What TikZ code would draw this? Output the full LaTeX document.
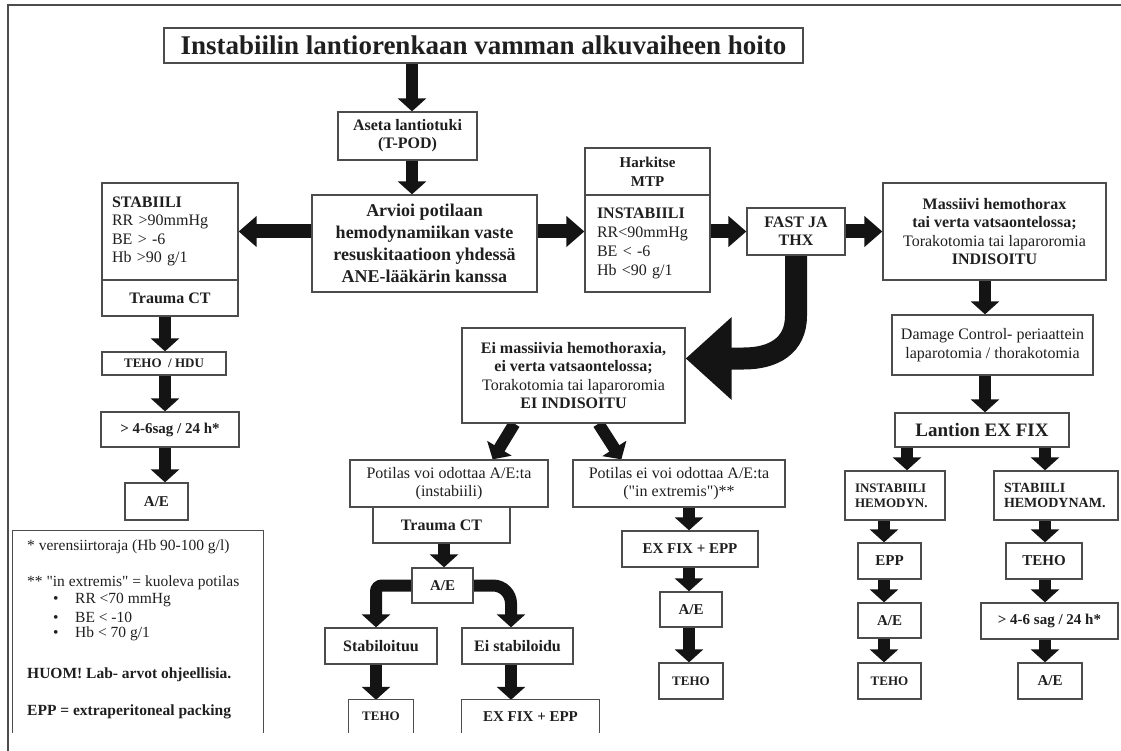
\documentclass[tikz,border=0pt]{standalone}
\usepackage{fontspec}
\setmainfont{Liberation Serif}[Ligatures=TeXOff]
\usetikzlibrary{arrows.meta,calc,backgrounds}
\newcommand\fsz[2]{\fontsize{#1}{#2}\selectfont}
\begin{document}
\begin{tikzpicture}[x=1pt,y=-1pt,
  bx/.style={draw=black!70,line width=1.3pt,fill=white,inner sep=1pt,align=center,text=black!88},
  bxt/.style={inner sep=1pt,align=center,text=black!88},
  arr/.style={line width=12pt,draw=black!92,-{Triangle[width=28pt,length=13pt]}},
  harr/.style={line width=14pt,draw=black!92,-{Triangle[width=30pt,length=18pt]}},
  bigarr/.style={line width=22pt,draw=black!92,-{Triangle[width=80pt,length=46pt]}},
  openbox/.style={draw=black!70,line width=1.3pt},
  frame/.style={draw=black!70,line width=2pt},
  leg/.style={anchor=west,inner sep=0pt,text=black!88,font=\fsz{15.5}{18}},
]
\useasboundingbox (0,0) rectangle (1121,751);
\draw[frame] (8,751) -- (8,5) -- (1121,5);

% column coordinates
\coordinate (cT) at (412,0);
\coordinate (cL) at (165,0);
\coordinate (cR) at (985,0);
\coordinate (cRa) at (907,0);
\coordinate (cRb) at (1045,0);
\coordinate (cRc) at (884,0);
\coordinate (cM) at (444,0);
\coordinate (cS) at (376,0);
\coordinate (cE) at (511,0);
\coordinate (cX) at (689,0);

% title and top
\node[bx,minimum width=639pt,minimum height=35pt,font=\bfseries\fsz{27}{30}] (title) at (483.5,45.5) {Instabiilin lantiorenkaan vamman alkuvaiheen hoito};
\node[bx,minimum width=139pt,minimum height=48pt,font=\bfseries\fsz{16}{18}] (aseta) at (407.5,136) {Aseta lantiotuki\\(T-POD)};
\node[bx,minimum width=225pt,minimum height=97pt,font=\bfseries\fsz{18}{22}] (arvioi) at (424.5,243.5) {Arvioi potilaan\\hemodynamiikan vaste\\resuskitaatioon yhdessä\\ANE-lääkärin kanssa};

% left column
\node[bx,minimum height=97pt,text width=116pt,inner xsep=10pt,align=left,font=\fsz{16}{18.5}] (stab) at (170,231.5) {{\bfseries STABIILI}\\RR >90mmHg\\BE > -6\\Hb >90 g/1};
\node[bx,minimum width=136pt,minimum height=36pt,font=\bfseries\fsz{16}{18}] (traumaL) at (170,298) {Trauma CT};
\node[bx,minimum width=124pt,minimum height=23pt,font=\bfseries\fsz{13}{15}] (tehohdu) at (164,363.5) {TEHO\ \ / HDU};
\node[bx,minimum width=138pt,minimum height=35pt,font=\bfseries\fsz{15}{17}] (sagL) at (170,429.5) {> 4-6sag / 24 h*};
\node[bx,minimum width=63pt,minimum height=37pt,font=\bfseries\fsz{15}{17}] (aeL) at (156.5,501.5) {A/E};

% legend
\node[bxt,minimum width=250pt,minimum height=202pt] (legend) at (138,632) {};
\draw[openbox] (legend.south west) |- (legend.north east) -- (legend.south east);
\node[leg] (lg1) at (27,547) {* verensiirtoraja (Hb 90-100 g/l)};
\node[leg] (lg2) at (27,583) {** "in extremis" = kuoleva potilas};
\node[leg] (lg3) at (53,600) {\makebox[22pt][l]{•}RR <70 mmHg};
\node[leg] (lg4) at (53,617) {\makebox[22pt][l]{•}BE < -10};
\node[leg] (lg5) at (53,634) {\makebox[22pt][l]{•}Hb < 70 g/1};
\node[leg,font=\bfseries\fsz{15.5}{18}] (lg6) at (27,675) {HUOM! Lab- arvot ohjeellisia.};
\node[leg,font=\bfseries\fsz{15.5}{18}] (lg7) at (27,712) {EPP = extraperitoneal packing};

% instabiili column
\node[bx,minimum width=125pt,minimum height=47pt,font=\bfseries\fsz{15}{19}] (harkitse) at (647.5,171.5) {Harkitse\\MTP};
\node[bx,minimum height=97pt,text width=101pt,inner xsep=12pt,align=left,font=\fsz{16}{19}] (instab) at (647.5,243.5) {{\bfseries INSTABIILI}\\RR<90mmHg\\BE < -6\\Hb <90 g/1};
\node[bx,minimum width=98pt,minimum height=47pt,font=\bfseries\fsz{16}{18}] (fast) at (796,231.5) {FAST JA\\THX};

% right branch
\node[bx,minimum width=223pt,minimum height=97pt,font=\fsz{16}{18.5}] (massiivi) at (994.5,231.5) {{\bfseries Massiivi hemothorax}\\{\bfseries tai verta vatsaontelossa;}\\Torakotomia tai laparoromia\\{\bfseries INDISOITU}};
\node[bx,minimum width=201pt,minimum height=60pt,font=\fsz{16}{18.7}] (damage) at (992.5,345) {Damage Control- periaattein\\laparotomia / thorakotomia};
\node[bx,minimum width=174pt,minimum height=34pt,font=\bfseries\fsz{19}{21}] (lantion) at (982,430) {Lantion EX FIX};
\node[bx,minimum height=49pt,text width=80pt,inner xsep=10pt,align=left,font=\bfseries\fsz{13}{15}] (instabH) at (895,495.5) {INSTABIILI\\HEMODYN.};
\node[bx,minimum height=49pt,text width=104pt,inner xsep=10pt,align=left,font=\bfseries\fsz{14}{15}] (stabH) at (1056,495.5) {STABIILI\\HEMODYNAM.};
\node[bx,minimum width=63pt,minimum height=36pt,font=\bfseries\fsz{15}{17}] (eppR) at (889.5,561) {EPP};
\node[bx,minimum width=63pt,minimum height=35pt,font=\bfseries\fsz{15}{17}] (aeR1) at (889.5,620.5) {A/E};
\node[bx,minimum width=63pt,minimum height=36pt,font=\bfseries\fsz{13}{15}] (tehoR1) at (889.5,681) {TEHO};
\node[bx,minimum width=76pt,minimum height=36pt,font=\bfseries\fsz{15}{17}] (tehoR2) at (1044,561) {TEHO};
\node[bx,minimum width=137pt,minimum height=36pt,font=\bfseries\fsz{15}{17}] (sagR) at (1049.5,621) {> 4-6 sag / 24 h*};
\node[bx,minimum width=64pt,minimum height=36pt,font=\bfseries\fsz{15}{17}] (aeR2) at (1050,681) {A/E};

% middle branch
\node[bx,minimum width=223pt,minimum height=95pt,font=\fsz{16}{18.5}] (eimass) at (573.5,375.5) {{\bfseries Ei massiivia hemothoraxia,}\\{\bfseries ei verta vatsaontelossa;}\\Torakotomia tai laparoromia\\{\bfseries EI INDISOITU}};
\node[bx,minimum width=198pt,minimum height=47pt,font=\fsz{16}{18}] (voi) at (449,483.5) {Potilas voi odottaa A/E:ta\\(instabiili)};
\node[bx,minimum width=137pt,minimum height=36pt,font=\bfseries\fsz{16}{18}] (traumaM) at (441.5,525) {Trauma CT};
\node[bx,minimum width=61pt,minimum height=35pt,font=\bfseries\fsz{15}{17}] (aeM) at (442.5,585.5) {A/E};
\node[bx,minimum width=112pt,minimum height=36pt,font=\bfseries\fsz{16}{18}] (stabu) at (381,646) {Stabiloituu};
\node[bx,minimum width=111pt,minimum height=36pt,font=\bfseries\fsz{16}{18}] (eistab) at (517.5,646) {Ei stabiloidu};
\node[bxt,minimum width=64pt,minimum height=33pt,font=\bfseries\fsz{13}{15}] (tehoM) at (381,716.5) {TEHO};
\draw[openbox] (tehoM.south west) |- (tehoM.north east) -- (tehoM.south east);
\node[bxt,minimum width=137pt,minimum height=33pt,font=\bfseries\fsz{15}{17}] (exfixM) at (530.5,716.5) {EX FIX + EPP};
\draw[openbox] (exfixM.south west) |- (exfixM.north east) -- (exfixM.south east);

\node[bx,minimum width=212pt,minimum height=47pt,font=\fsz{16}{18}] (eivoi) at (679,483.5) {Potilas ei voi odottaa A/E:ta\\("in extremis")**};
\node[bx,minimum width=136pt,minimum height=36pt,font=\bfseries\fsz{15}{17}] (exfixR) at (690,549) {EX FIX + EPP};
\node[bx,minimum width=62pt,minimum height=35pt,font=\bfseries\fsz{15}{17}] (aeM2) at (691,609.5) {A/E};
\node[bx,minimum width=64pt,minimum height=36pt,font=\bfseries\fsz{13}{15}] (tehoM2) at (691,681) {TEHO};

\begin{scope}[on background layer]
% top
\draw[arr] (cT |- title.south) -- (cT |- aseta.north);
\draw[arr] (cT |- aseta.south) -- (cT |- arvioi.north);
\draw[harr] (arvioi.west |- stab.east) -- (stab.east);
\draw[harr] (arvioi.east |- fast.west) -- (instab.west |- fast.west);
\draw[harr] (instab.east |- fast.west) -- (fast.west);
\draw[harr] (fast.east) -- (massiivi.west);
% left column
\draw[arr] (cL |- traumaL.south) -- (cL |- tehohdu.north);
\draw[arr] (cL |- tehohdu.south) -- (cL |- sagL.north);
\draw[arr] (cL |- sagL.south) -- (cL |- aeL.north);
% right
\draw[arr] (cR |- massiivi.south) -- (cR |- damage.north);
\draw[arr] (cR |- damage.south) -- (cR |- lantion.north);
\draw[arr] (cRa |- lantion.south) -- (cRa |- instabH.north);
\draw[arr] (cRb |- lantion.south) -- (cRb |- stabH.north);
\draw[arr] (cRc |- instabH.south) -- (cRc |- eppR.north);
\draw[arr] (cRc |- eppR.south) -- (cRc |- aeR1.north);
\draw[arr] (cRc |- aeR1.south) -- (cRc |- tehoR1.north);
\draw[arr] (cRb |- stabH.south) -- (cRb |- tehoR2.north);
\draw[arr] (cRb |- tehoR2.south) -- (cRb |- sagR.north);
\draw[arr] (cRb |- sagR.south) -- (cRb |- aeR2.north);
% big curved arrow
\draw[bigarr] (fast.south) -- ($(fast.south)+(0,60)$) .. controls +(0,30) and +(30,0) .. ($(eimass.east)+(58,-17)$) -- ($(eimass.east)+(0,-17)$);
% middle
\draw[arr] ($(eimass.south west)+(53,0)$) -- ($(voi.north east)+(-56,0)$);
\draw[arr] ($(eimass.south)+(25,0)$) -- ($(eivoi.north west)+(49,0)$);
\draw[arr] (cM |- traumaM.south) -- (cM |- aeM.north);
\draw[arr,rounded corners=6pt] (aeM.west) -| (cS |- stabu.north);
\draw[arr,rounded corners=18pt] (aeM.east) -| (cE |- eistab.north);
\draw[arr] (cS |- stabu.south) -- (cS |- tehoM.north);
\draw[arr] (cE |- eistab.south) -- (cE |- exfixM.north);
\draw[arr] (cX |- eivoi.south) -- (cX |- exfixR.north);
\draw[arr] (cX |- exfixR.south) -- (cX |- aeM2.north);
\draw[arr] (cX |- aeM2.south) -- (cX |- tehoM2.north);
\end{scope}
\end{tikzpicture}
\end{document}
